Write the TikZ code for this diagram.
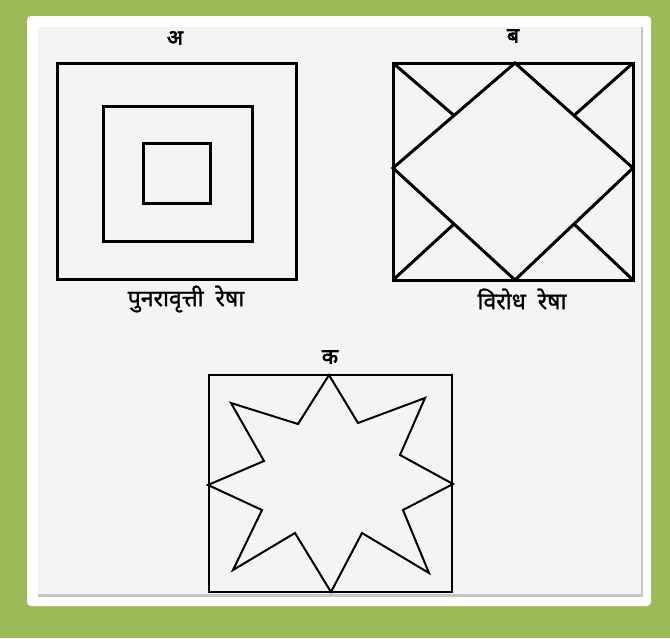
\documentclass[tikz,border=0pt]{standalone}
\usepackage{fontspec}
\usetikzlibrary{calc}
\newfontfamily\devfont[Script=Devanagari,FakeBold=1.2]{Noto Sans}
\newfontfamily\devbold[Script=Devanagari,FakeBold=3]{Noto Sans}
\definecolor{leaf}{HTML}{9BBB59}
\definecolor{paper}{HTML}{F4F4F2}
\tikzset{
  heavy/.style={line width=3pt,line join=miter},
  light/.style={line width=2pt,line join=miter},
  title/.style={font=\devbold\fontsize{21}{24}\selectfont,inner sep=0pt},
  caption/.style={font=\devfont\fontsize{23}{26}\selectfont,inner sep=0pt}
}
\begin{document}
\begin{tikzpicture}[x=1pt,y=-1pt]
    % frame
    \fill[leaf] (0,0) rectangle (670,638);
    \fill[white,rounded corners=4pt] (27,16) rectangle (651,606);
    \fill[gray!45] (38,27) rectangle (643,597);
    \fill[paper] (38,27) rectangle (641,594);
    % A: repetition
    \draw[heavy] (57,63) rectangle (296,279);
    \draw[heavy] (103,106) rectangle (252,241);
    \draw[heavy] (143,143) rectangle (210,203);
    \node[title] (ta) at (175,38) {अ};
    \node[caption] (ca) at (186,299) {पुनरावृत्ती\hspace{6pt} रेषा};
    % B: opposition
    \coordinate (bnw) at (393,63);  \coordinate (bne) at (633,63);
    \coordinate (bse) at (633,280); \coordinate (bsw) at (393,280);
    \coordinate (bn) at (515,63);   \coordinate (be) at (633,168);
    \coordinate (bs) at (515,280);  \coordinate (bw) at (393,168);
    \draw[heavy] (bnw) rectangle (bse);
    \draw[heavy] (bn) -- (be) -- (bs) -- (bw) -- cycle;
    \draw[heavy] (bnw) -- ($(bw)!.5!(bn)$);
    \draw[heavy] (bne) -- ($(bn)!.5!(be)$);
    \draw[heavy] (bse) -- ($(be)!.5!(bs)$);
    \draw[heavy] (bsw) -- ($(bs)!.5!(bw)$);
    \node[title] (tb) at (513,36) {ब};
    \node[caption] (cb) at (522,299) {विरोध\hspace{6pt} रेषा};
    % C: star
    \draw[light] (209,375) rectangle (452,592);
    \draw[light] (329,375) -- (358,423) -- (425,398) -- (400,455)
      -- (453,484) -- (403,510) -- (429,573) -- (362,533)
      -- (331,592) -- (295,533) -- (233,570) -- (262,510)
      -- (208,485) -- (264,461) -- (231,403) -- (298,424) -- cycle;
    \node[title] (tc) at (330,357) {क};
\end{tikzpicture}
\end{document}
